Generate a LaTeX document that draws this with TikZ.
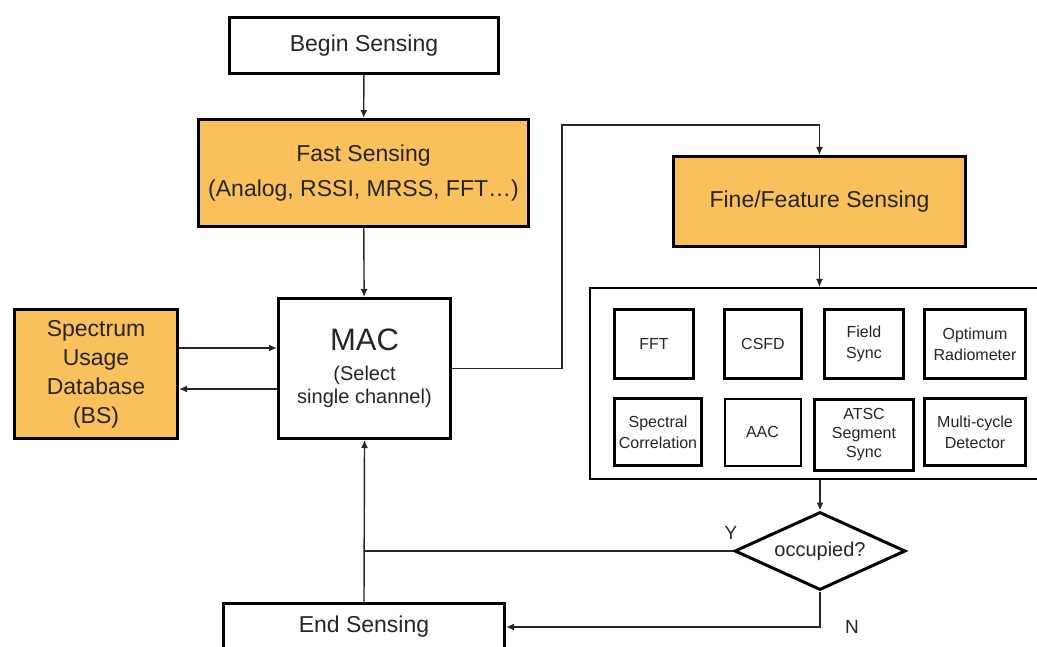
\documentclass[tikz,border=0pt]{standalone}
\usepackage{fontspec}
\setmainfont{Liberation Sans}
\usepackage{xcolor}
\usepackage{tikz}
\usetikzlibrary{shapes.geometric,positioning,calc,arrows.meta}
\definecolor{senseorange}{RGB}{250,192,92}

\begin{document}
\begin{tikzpicture}[x=1pt, y=-1pt,
  block/.style={draw=black, line width=3pt, fill=white, align=center, inner sep=0pt, text=black!85, font=\fontsize{23}{35}\selectfont},
  hot/.style={block, fill=senseorange},
  cell/.style={draw=black, line width=3pt, fill=white, align=center, inner sep=0pt, text=black!85, font=\fontsize{16}{21}\selectfont},
  flow/.style={draw=black!85, line width=1.4pt, -{Latex[length=8pt,width=7pt]}},
  link/.style={draw=black!85, line width=1.4pt}]
  \useasboundingbox (0,0) rectangle (1037,647);
  \clip (0,0) rectangle (1037,647);

  % Main column
  \node[block, minimum width=269, minimum height=56] (begin) at (364,45.5) {Begin Sensing};
  \node[hot, minimum width=330, minimum height=107] (fast) at (363.5,173) {Fast Sensing\\(Analog, RSSI, MRSS, FFT\ldots)};
  \node[block, minimum width=172, minimum height=140, font=\fontsize{20}{23}\selectfont] (mac) at (364.5,368.5)
    {{\fontsize{31}{31}\selectfont MAC}\\[7pt](Select\\single channel)};
  \node[hot, minimum width=163, minimum height=129, font=\fontsize{23}{29}\selectfont] (db) at (96,374) {Spectrum\\Usage\\Database\\(BS)};
  \node[block, minimum width=281, minimum height=47] (endsense) at (364,627) {End Sensing};

  % Fine sensing side
  \node[hot, minimum width=292, minimum height=90] (fine) at (819.5,201.5) {Fine/Feature Sensing};
  \node[draw=black, line width=2pt, fill=white, minimum width=500, minimum height=191] (detectors) at (840,383.5) {};

  % Detector cells
  \node[cell, minimum width=79, minimum height=69] (fft) at (654,344) {FFT};
  \node[cell, minimum width=77, minimum height=69] (csfd) at (763,344) {CSFD};
  \node[cell, minimum width=79, minimum height=69] (field) at (864,344) {Field\\Sync};
  \node[cell, minimum width=101, minimum height=69] (radio) at (975,344) {Optimum\\Radiometer};
  \node[cell, minimum width=87, minimum height=67] (spectral) at (658,432) {Spectral\\Correlation};
  \node[cell, minimum width=76, minimum height=67, line width=2pt] (aac) at (762.5,432) {AAC};
  \node[cell, minimum width=99, minimum height=71, font=\fontsize{16}{19}\selectfont] (atsc) at (864,435) {ATSC\\Segment\\Sync};
  \node[cell, minimum width=101, minimum height=67] (multi) at (975,432) {Multi-cycle\\Detector};

  % Decision
  \node[diamond, draw=black, line width=3pt, fill=white, aspect=2.2, inner sep=0pt,
        minimum width=171, minimum height=78, text=black!85, font=\fontsize{20}{24}\selectfont] (occ) at (820,551) {occupied?};

  % Connectors
  \draw[flow] (begin) -- (fast);
  \draw[flow] (fast) -- (mac);
  \coordinate (dbin) at ([yshift=26pt]db.east);
  \coordinate (dbout) at ([yshift=-15pt]db.east);
  \draw[flow] (dbin) -- (dbin -| mac.west);
  \draw[flow] (dbout -| mac.west) -- (dbout);
  \coordinate (hop) at (562,125);
  \draw[flow] (mac.east) -| (hop) -| (fine.north);
  \draw[flow] (fine.south) -- (fine.south |- detectors.north);
  \draw[flow] (occ.north |- detectors.south) -- (occ.north);
  \draw[link] (occ.west) -- (occ.west -| mac.south);
  \draw[flow] (endsense.north) -- (mac.south);
  \draw[flow] (occ.south) |- (endsense.east);

  % Branch labels
  \node[text=black!85, font=\fontsize{19}{19}\selectfont] (yes) at ([xshift=-2pt,yshift=18pt]occ.west) {Y};
  \node[text=black!85, font=\fontsize{19}{19}\selectfont] (no) at ($(occ.south |- endsense.east)+(32,0)$) {N};
\end{tikzpicture}
\end{document}
